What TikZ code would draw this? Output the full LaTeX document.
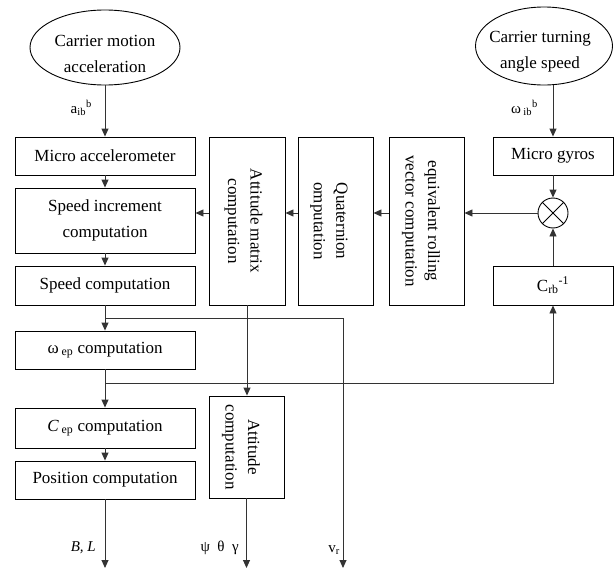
\documentclass[tikz,border=0pt]{standalone}
\usepackage{fontspec}
\setmainfont{Liberation Serif}
\usetikzlibrary{arrows.meta,shapes.geometric}
\begin{document}
\begin{tikzpicture}[x=1pt,y=-1pt,
  box/.style={draw, line width=0.9pt, rectangle, inner sep=0pt, font=\fontsize{17}{26}\selectfont, align=center},
  oval/.style={draw, ellipse, line width=0.9pt, inner sep=0pt},
  txt/.style={font=\fontsize{17}{26}\selectfont, align=center, inner sep=0pt},
  vtxt/.style={font=\fontsize{17}{22.5}\selectfont, align=center, inner sep=0pt, rotate=-90},
  lbl/.style={font=\fontsize{15}{18}\selectfont, inner sep=0pt},
  conn/.style={line width=0.9pt, draw=black!80},
  arr/.style={conn, -{Triangle[length=8pt,width=7pt]}},
]
\useasboundingbox (0,0) rectangle (614,570);
% ellipses
\node[oval, minimum width=150pt, minimum height=75pt] (e1) at (105,47.5) {};
\node[txt] (e1t) at (105,54) {Carrier motion\\acceleration};
\node[oval, minimum width=137pt, minimum height=78pt] (e2) at (544,46) {};
\node[txt] (e2t) at (540,52) {Carrier turning\\angle speed};
% left column
\node[box, minimum width=180pt, minimum height=38pt] (acc) at (105,156) {Micro accelerometer};
\node[box, minimum width=180pt, minimum height=65pt] (inc) at (105,220.5) {Speed increment\\computation};
\node[box, minimum width=180pt, minimum height=39pt] (spd) at (105,285.5) {Speed computation};
\node[box, minimum width=180pt, minimum height=38pt] (wep) at (105,350) {ω\,\textsubscript{ep} computation};
\node[box, minimum width=180pt, minimum height=40pt] (cep) at (105,428) {\textit{C}\,\textsubscript{ep} computation};
\node[box, minimum width=180pt, minimum height=38pt] (pos) at (105,480) {Position computation};
% vertical boxes
\node[box, minimum width=76pt, minimum height=168pt] (attm) at (247,221) {};
\node[vtxt] (attmt) at (243.5,221) {Attitude matrix\\computation};
\node[box, minimum width=75pt, minimum height=168pt] (quat) at (335.5,221) {};
\node[vtxt] (quatt) at (329,221) {Quaternion\\omputation};
\node[box, minimum width=75pt, minimum height=168pt] (equiv) at (426.5,221) {};
\node[vtxt] (equivt) at (421,221) {equivalent rolling\\vector computation};
\node[box, minimum width=75pt, minimum height=102pt] (att) at (246.5,447) {};
\node[vtxt] (attt) at (241,447) {Attitude\\computation};
% right column
\node[box, minimum width=120pt, minimum height=38pt] (gyro) at (553,156) {Micro gyros};
\node[draw, circle, minimum size=30pt, inner sep=0pt, line width=0.9pt] (ox) at (553,213) {};
\draw[line width=0.9pt] (ox.north west) -- (ox.south east) (ox.north east) -- (ox.south west);
\node[box, minimum width=120pt, minimum height=39pt] (crb) at (553,285.5) {C\textsubscript{rb}\textsuperscript{-1}};
% coordinates
\coordinate (j1) at (105,318);
\coordinate (vr) at (343,318);
\coordinate (vrend) at (343,568);
\coordinate (j2) at (105,383);
\coordinate (blend) at (105,568);
\coordinate (ptgend) at (246.5,568);
% connectors
\draw[arr] (e1.south) -- (acc.north);
\draw[arr] (acc.south) -- (inc.north);
\draw[arr] (inc.south) -- (spd.north);
\draw[arr] (spd.south) -- (wep.north);
\draw[conn] (j1) -- (vr);
\draw[arr] (vr) -- (vrend);
\draw[arr] (wep.south) -- (cep.north);
\draw[arr] (j2) -| (crb.south);
\draw[arr] (cep.south) -- (pos.north);
\draw[arr] (pos.south) -- (blend);
\draw[arr] (attm.south) -- (attm.south |- att.north);
\draw[arr] (att.south) -- (ptgend);
\draw[arr] (e2.south -| gyro.north) -- (gyro.north);
\draw[arr] (gyro.south) -- (ox.north);
\draw[arr] (crb.north) -- (ox.south);
\draw[arr] (ox.west) -- (equiv.east |- ox.west);
\draw[arr] (equiv.west |- ox.west) -- (quat.east |- ox.west);
\draw[arr] (quat.west |- ox.west) -- (attm.east |- ox.west);
\draw[arr] (attm.west |- ox.west) -- (inc.east |- ox.west);
% labels
\node[lbl, anchor=east] (la) at (92,108) {a\textsubscript{ib}\textsuperscript{b}};
\node[lbl, anchor=east] (lw) at (538,108) {ω\,\textsubscript{ib}\textsuperscript{b}};
\node[lbl, anchor=east] (lbl1) at (96,548) {\textit{B, L}};
\node[lbl, anchor=east] (lbl2) at (239,548) {ψ\ \ θ\ \ γ};
\node[lbl, anchor=east] (lbl3) at (340,550) {v\textsubscript{r}};
\end{tikzpicture}
\end{document}
